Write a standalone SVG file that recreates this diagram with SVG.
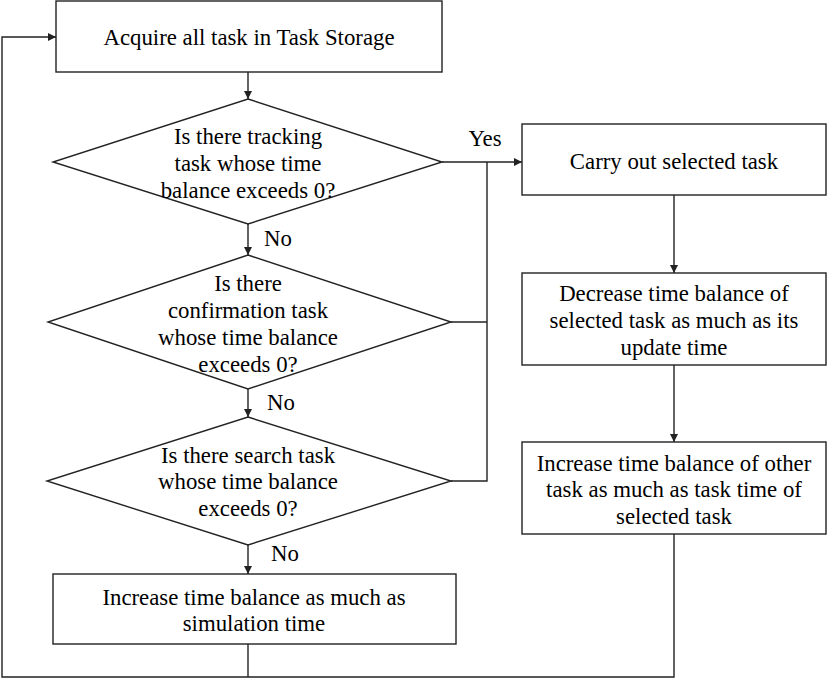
<svg xmlns="http://www.w3.org/2000/svg" width="827" height="680" viewBox="0 0 827 680">
<style>
.n{fill:#fff;stroke:#222;stroke-width:1.4}
.c{fill:none;stroke:#222;stroke-width:1.4}
text{font-family:'Liberation Serif','Times New Roman',serif;font-size:22.8px;fill:#000;text-anchor:middle;dominant-baseline:central}
</style>
<defs>
<marker id="ah" viewBox="0 0 10 10" refX="10" refY="5" markerWidth="8" markerHeight="8" markerUnits="userSpaceOnUse" orient="auto">
<path d="M0,0 L10,5 L0,10 z" fill="#222"/>
</marker>
</defs>
<rect width="827" height="680" fill="#fff"/>
<g id="connectors">
<path class="c" d="M248,72 V99" marker-end="url(#ah)"/>
<path class="c" d="M248,224 V255" marker-end="url(#ah)"/>
<path class="c" d="M248,389 V417" marker-end="url(#ah)"/>
<path class="c" d="M248,545 V574" marker-end="url(#ah)"/>
<path class="c" d="M442,162 H522" marker-end="url(#ah)"/>
<path class="c" d="M451,322 H487"/>
<path class="c" d="M451,481 H487 V162"/>
<path class="c" d="M674,195 V273" marker-end="url(#ah)"/>
<path class="c" d="M674,365 V442" marker-end="url(#ah)"/>
<path class="c" d="M248,644 V677"/>
<path class="c" d="M674,534 V677 H2 V37 H56" marker-end="url(#ah)"/>
<text x="485" y="138">Yes</text>
<text x="278" y="238">No</text>
<text x="281" y="402">No</text>
<text x="285" y="553">No</text>
</g>
<g id="acquire">
<rect class="n" x="56" y="1" width="386" height="71"/>
<text x="249" y="37">Acquire all task in Task Storage</text>
</g>
<g id="tracking">
<polygon class="n" points="248,99 442,162 248,224 53,162"/>
<text x="248" y="136">Is there tracking</text>
<text x="248" y="163">task whose time</text>
<text x="248" y="190">balance exceeds 0?</text>
</g>
<g id="confirmation">
<polygon class="n" points="248,255 451,322 248,389 48,322"/>
<text x="248" y="283">Is there</text>
<text x="248" y="310">confirmation task</text>
<text x="248" y="337">whose time balance</text>
<text x="248" y="364">exceeds 0?</text>
</g>
<g id="search">
<polygon class="n" points="248,417 451,481 248,545 47,481"/>
<text x="248" y="455">Is there search task</text>
<text x="248" y="481">whose time balance</text>
<text x="248" y="508">exceeds 0?</text>
</g>
<g id="increase-sim">
<rect class="n" x="53" y="574" width="403" height="70"/>
<text x="254" y="597">Increase time balance as much as</text>
<text x="254" y="623">simulation time</text>
</g>
<g id="carry-out">
<rect class="n" x="522" y="124" width="304" height="71"/>
<text x="674" y="161">Carry out selected task</text>
</g>
<g id="decrease">
<rect class="n" x="522" y="273" width="304" height="92"/>
<text x="674" y="293">Decrease time balance of</text>
<text x="674" y="320">selected task as much as its</text>
<text x="674" y="347">update time</text>
</g>
<g id="increase-other">
<rect class="n" x="522" y="442" width="304" height="92"/>
<text x="674" y="463">Increase time balance of other</text>
<text x="674" y="489">task as much as task time of</text>
<text x="674" y="516">selected task</text>
</g>
</svg>
